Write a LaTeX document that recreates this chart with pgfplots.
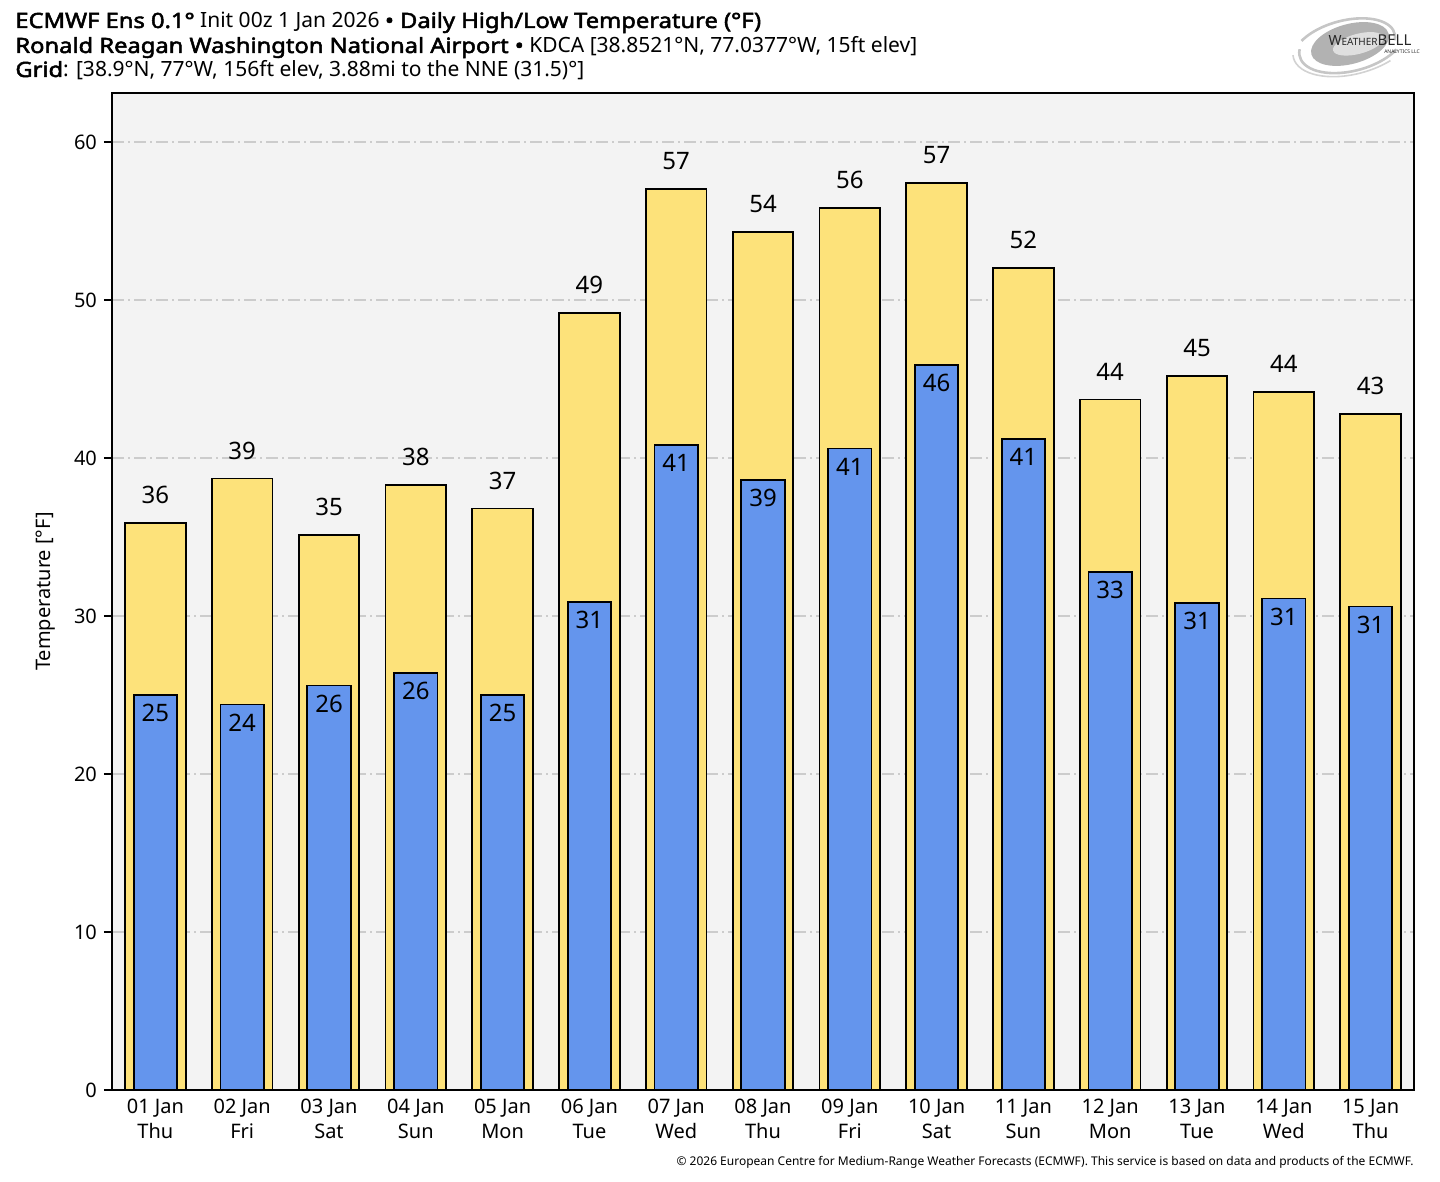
\documentclass[border=0pt]{standalone}
\usepackage{pgfplots}
\pgfplotsset{compat=1.18}
\usepackage{fontspec}
\setmainfont{Noto Sans}
\newfontfamily\hb{Noto Sans}[FakeBold=2.4, FakeStretch=1.13]
\definecolor{hiyel}{HTML}{FDE27A}
\definecolor{lowblue}{HTML}{6495ED}
\definecolor{panel}{HTML}{F3F3F3}

\pgfplotstableread{
x hi lo
0 35.9 25.0
1 38.7 24.4
2 35.1 25.6
3 38.3 26.4
4 36.8 25.0
5 49.2 30.9
6 57.0 40.8
7 54.3 38.6
8 55.8 40.6
9 57.4 45.9
10 52.0 41.2
11 43.7 32.8
12 45.2 30.8
13 44.2 31.1
14 42.8 30.6
}\temps

\begin{document}
\begin{tikzpicture}[x=1pt,y=1pt]
\path (0,0) rectangle (720,591);
\begin{axis}[
    at={(56pt,46pt)}, anchor=south west,
    scale only axis, width=651pt, height=498.5pt,
    xmin=-0.5, xmax=14.5, ymin=0, ymax=63.1,
    axis background/.style={fill=panel},
    axis line style={line width=1pt},
    ybar, bar shift=0pt,
    xtick={0,...,14},
    xticklabels={01 Jan\\Thu,02 Jan\\Fri,03 Jan\\Sat,04 Jan\\Sun,05 Jan\\Mon,06 Jan\\Tue,07 Jan\\Wed,08 Jan\\Thu,09 Jan\\Fri,10 Jan\\Sat,11 Jan\\Sun,12 Jan\\Mon,13 Jan\\Tue,14 Jan\\Wed,15 Jan\\Thu},
    xticklabel style={align=center, yshift=3pt, font=\fontsize{10}{12.5}\selectfont},
    ytick={0,10,...,60},
    ytick pos=left,
    yticklabel style={font=\fontsize{10}{12}\selectfont},
    /pgf/number format/assume math mode=true,
    tick align=outside, major tick length=4pt,
    x tick style={draw=none},
    y tick style={line width=0.8pt, black},
    ymajorgrids, grid style={gray!40, dash pattern=on 6pt off 2pt on 1pt off 2pt, line width=0.6pt},
    ylabel={Temperature [°F]},
    ylabel style={font=\fontsize{10}{12}\selectfont, at={(axis description cs:-0.0507,0.5)}, anchor=center},
    clip=false,
]
\addplot[fill=hiyel, draw=black, line width=0.9pt, bar width=0.7,
    nodes near coords={\pgfmathprintnumber[fixed,precision=0]{\pgfplotspointmeta}},
    nodes near coords style={anchor=center, yshift=14pt, font=\fontsize{12}{14}\selectfont, black}]
    table[x=x, y=hi] {\temps};
\addplot[fill=lowblue, draw=black, line width=0.9pt, bar width=0.5,
    nodes near coords={\pgfmathprintnumber[fixed,precision=0]{\pgfplotspointmeta}},
    nodes near coords style={anchor=center, yshift=-9pt, font=\fontsize{12}{14}\selectfont, black}]
    table[x=x, y=lo] {\temps};
\end{axis}
% header
\node[anchor=base west, inner sep=0, font=\fontsize{10.5}{12}\selectfont] at (7.5,577)
  {{\hb ECMWF Ens 0.1°} Init 00z 1 Jan 2026 {\hb • Daily High/Low Temperature (°F)}};
\node[anchor=base west, inner sep=0, font=\fontsize{10.5}{12}\selectfont] at (7.5,564.5)
  {{\hb Ronald Reagan Washington National Airport •} KDCA [38.8521°N, 77.0377°W, 15ft elev]};
\node[anchor=base west, inner sep=0, font=\fontsize{10.5}{12}\selectfont] at (7.5,552.5)
  {{\hb Grid}: [38.9°N, 77°W, 156ft elev, 3.88mi to the NNE (31.5)°]};
% footer
\node[anchor=base east, inner sep=0, font=\fontsize{6}{7}\selectfont] at (707,8)
  {© 2026 European Centre for Medium-Range Weather Forecasts (ECMWF). This service is based on data and products of the ECMWF.};
% logo
\begin{scope}[shift={(675,569)}]
  \fill[gray!60, rotate=15] (0,0) ellipse (20 and 10);
  \fill[gray!25, rotate=15] (4,-1) ellipse (13 and 5);
  \draw[gray!45, line width=1.3pt, rotate=15] (-25,4) arc (165:320:27 and 14);
  \draw[gray!45, line width=1.3pt, rotate=15] (22,-4) arc (-15:140:26 and 13);
  \draw[gray!35, line width=0.8pt, rotate=15] (-29,2) arc (175:300:31 and 16);
  \node[font=\fontsize{7}{8}\selectfont, text=gray!30!black] at (10,2) {W\fontsize{5}{6}\selectfont EATHER\fontsize{7.5}{8}\selectfont BELL};
  \node[font=\fontsize{2.5}{3}\selectfont, text=gray!30!black] at (26,-4) {ANALYTICS LLC};
\end{scope}
\end{tikzpicture}
\end{document}
